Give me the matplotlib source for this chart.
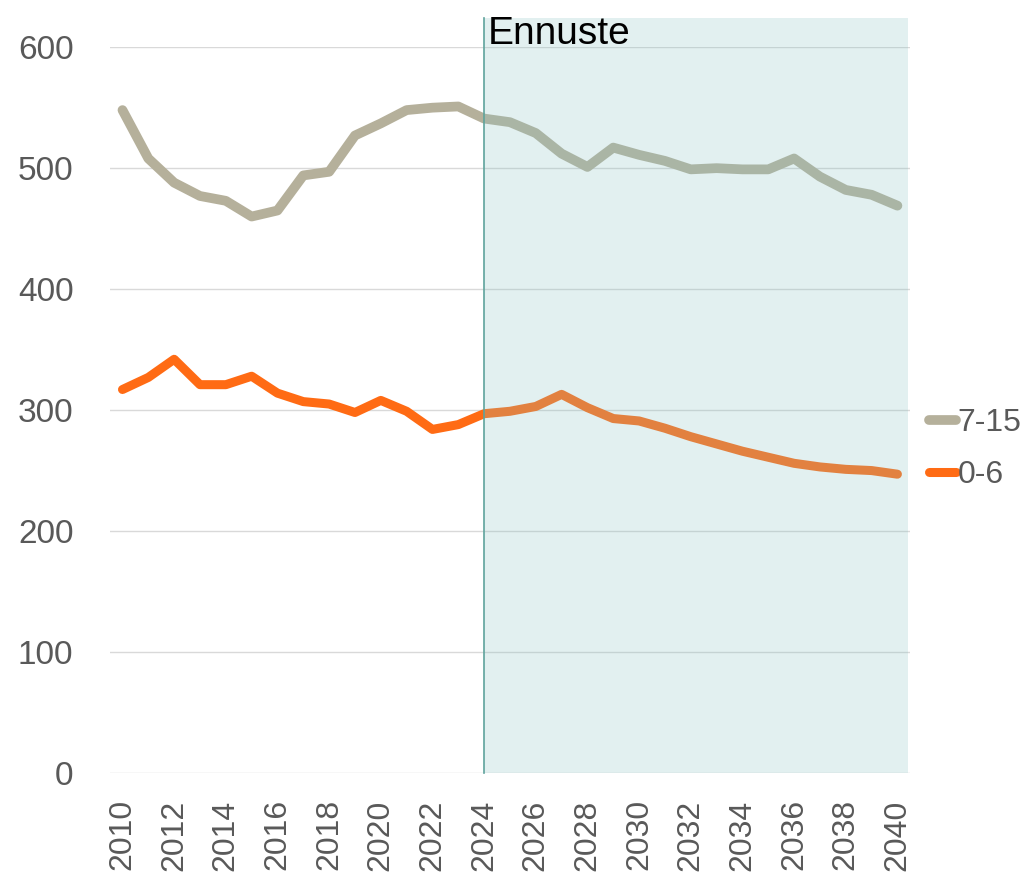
import numpy as np
import matplotlib
matplotlib.use("Agg")
import matplotlib.pyplot as plt
from matplotlib.patches import Rectangle

years = list(range(2010, 2041))
age_7_15 = [548, 508, 488, 477, 473, 460, 465, 494, 497, 527, 537, 548, 550, 551,
            541, 538, 529, 512, 501, 517, 511, 506, 499, 500, 499, 499, 508, 493,
            482, 478, 469]
age_0_6 = [317, 327, 342, 321, 321, 328, 314, 307, 305, 298, 308, 299, 284, 288,
           297, 299, 303, 313, 302, 293, 291, 285, 278, 272, 266, 261, 256, 253,
           251, 250, 247]
forecast_start = 2024
forecast_label = "Ennuste"

GRAY = "#b5b09b"
ORANGE = "#ff6b14"
TICK = "#595959"
FONT = ["Liberation Sans", "DejaVu Sans"]
plt.rcParams["font.family"] = FONT

fig = plt.figure(figsize=(10.24, 8.74), dpi=100)
ax = fig.add_axes([0.107, 0.1156, 0.782, 0.8304])

ax.plot(years, age_7_15, color=GRAY, lw=7, solid_capstyle="round",
        solid_joinstyle="round", label="7-15", zorder=2)
ax.plot(years, age_0_6, color=ORANGE, lw=6.5, solid_capstyle="round",
        solid_joinstyle="round", label="0-6", zorder=2)

# forecast shading, drawn over the lines so they pick up the tint
ax.add_patch(Rectangle((forecast_start, 0), 2040.4 - forecast_start, 624,
                       facecolor="#8cc4c4", alpha=0.25, edgecolor="none",
                       zorder=3, clip_on=False))
ax.plot([forecast_start, forecast_start], [0, 624], color="#5fa39c", lw=1.2,
        zorder=4, clip_on=False)
ax.text(forecast_start + 0.15, 603, forecast_label, fontsize=28,
        color="black", va="baseline", ha="left", zorder=5)

ax.set_xlim(2009.5, 2040.5)
ax.set_ylim(0, 600)
ax.set_yticks(range(0, 601, 100))
ax.set_xticks(range(2010, 2041, 2))
ax.set_xticklabels([str(y) for y in range(2010, 2041, 2)], rotation=90,
                   fontsize=23, color=TICK)
for lab in ax.get_yticklabels():
    lab.set_fontsize(24)
    lab.set_color(TICK)
ax.tick_params(axis="both", length=0)
ax.tick_params(axis="y", pad=26)
ax.tick_params(axis="x", pad=19)
ax.grid(axis="y", color="#d9d9d9", lw=1, zorder=0)
for s in ax.spines.values():
    s.set_visible(False)

leg = fig.legend(loc="center left", bbox_to_anchor=(0.907, 0.486), frameon=False,
                 handlelength=0.85, handletextpad=0.05, labelspacing=0.68,
                 borderpad=0, borderaxespad=0, fontsize=23)
for t in leg.get_texts():
    t.set_color(TICK)

fig.savefig("out.png", dpi=100)
